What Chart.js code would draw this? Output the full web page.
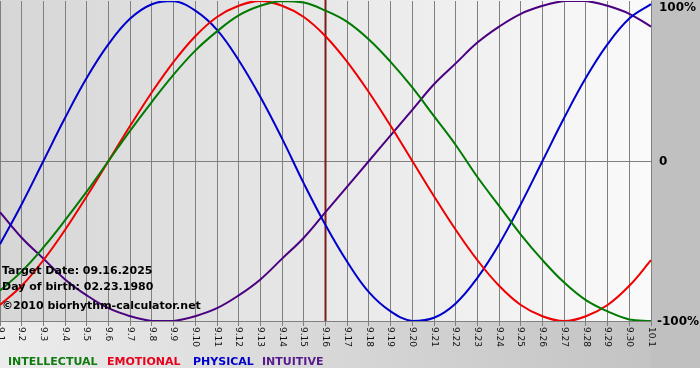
<!DOCTYPE html>
<html>
<head>
<meta charset="utf-8">
<script src="https://cdn.jsdelivr.net/npm/chart.js@4/dist/chart.umd.min.js"></script>
<style>
  html, body { margin: 0; padding: 0; background: #ffffff; }
  #wrap { width: 700px; height: 380px; position: relative; }
</style>
</head>
<body>
<div id="wrap"><canvas id="c" width="700" height="380"></canvas></div>
<script>
const days = ["9.1","9.2","9.3","9.4","9.5","9.6","9.7","9.8","9.9","9.10","9.11","9.12","9.13","9.14","9.15","9.16","9.17","9.18","9.19","9.20","9.21","9.22","9.23","9.24","9.25","9.26","9.27","9.28","9.29","9.30","10.1"];
const intellectual = [-81,-69,-54,-37,-19,0,19,37,54,69,81,91,97,100,99,94,87,76,62,46,28,10,-10,-28,-46,-62,-76,-87,-94,-99,-100];
const emotional    = [-90,-78,-62,-43,-22,0,22,43,62,78,90,97,100,97,90,78,62,43,22,0,-22,-43,-62,-78,-90,-97,-100,-97,-90,-78,-62];
const physical     = [-52,-27,0,27,52,73,89,98,100,94,82,63,40,14,-14,-40,-63,-82,-94,-100,-98,-89,-73,-52,-27,0,27,52,73,89,98];
const intuitive    = [-32,-48,-61,-74,-84,-92,-97,-100,-100,-97,-92,-84,-74,-61,-48,-32,-16,0,16,32,48,61,74,84,92,97,100,100,97,92,84];
const yTickLabels = {"100": "100%", "0": "0", "-100": "-100%"};
const targetDay = "9.16";
const infoLines = ["Target Date: 09.16.2025", "Day of birth: 02.23.1980", "\u00A92010 biorhythm-calculator.net"];
const legendItems = [
  {text: "INTELLECTUAL", color: "#0f7a0f", x: 8},
  {text: "EMOTIONAL", color: "#e8001c", x: 107},
  {text: "PHYSICAL", color: "#0000cc", x: 193},
  {text: "INTUITIVE", color: "#551a8b", x: 262}
];
const lineColors = {intellectual: "#007a00", emotional: "#ee0000", physical: "#0000cc", intuitive: "#4b0082"};

const bgPlugin = {
  id: "bg",
  beforeDraw(chart) {
    const ctx = chart.ctx, a = chart.chartArea;
    ctx.save();
    ctx.fillStyle = "#ffffff";
    ctx.fillRect(0, 0, chart.width, chart.height);
    let g = ctx.createLinearGradient(0, 0, chart.width, 0);
    g.addColorStop(0, "#ececec");
    g.addColorStop(1, "#c0c0c0");
    ctx.fillStyle = g;
    ctx.fillRect(0, 0, chart.width, 368);
    ctx.fillStyle = "#c0c0c0";
    ctx.fillRect(a.right, 0, chart.width - a.right, 368);
    g = ctx.createLinearGradient(a.left, 0, a.right, 0);
    g.addColorStop(0, "#d6d6d6");
    g.addColorStop(1, "#fafafa");
    ctx.fillStyle = g;
    ctx.fillRect(a.left, 0, a.right - a.left, a.bottom);
    ctx.restore();
  },
  beforeDatasetsDraw(chart) {
    const ctx = chart.ctx, a = chart.chartArea, xs = chart.scales.x;
    const x = xs.getPixelForValue(days.indexOf(targetDay));
    ctx.save();
    ctx.strokeStyle = "#7d1c1c";
    ctx.lineWidth = 2;
    ctx.beginPath();
    ctx.moveTo(x, 0);
    ctx.lineTo(x, a.bottom);
    ctx.stroke();
    ctx.restore();
  },
  afterDraw(chart) {
    const ctx = chart.ctx, a = chart.chartArea, xs = chart.scales.x, ys = chart.scales.y;
    ctx.save();
    ctx.fillStyle = "#111111";
    ctx.font = "9px 'DejaVu Sans'";
    ctx.textAlign = "left";
    ctx.textBaseline = "middle";
    days.forEach((d, i) => {
      const x = xs.getPixelForValue(i);
      ctx.save();
      ctx.translate(x, a.bottom + 6);
      ctx.rotate(Math.PI / 2);
      ctx.fillText(d, 0, 0);
      ctx.restore();
    });
    ctx.fillStyle = "#000000";
    ctx.font = "bold 12px 'DejaVu Sans'";
    Object.keys(yTickLabels).forEach(k => {
      const y = ys.getPixelForValue(Number(k));
      const t = yTickLabels[k];
      ctx.fillText(t, t.startsWith("-") ? 657 : 659, Math.min(Math.max(y, 7), 373) + 1);
    });
    ctx.font = "bold 11px 'DejaVu Sans'";
    ctx.fillStyle = "#000000";
    ctx.fillText(infoLines[0], 2, 271);
    ctx.fillText(infoLines[1], 2, 287);
    ctx.fillText(infoLines[2], 2, 306);
    legendItems.forEach(it => {
      ctx.fillStyle = it.color;
      ctx.fillText(it.text, it.x, 362);
    });
    ctx.restore();
  }
};

new Chart(document.getElementById("c"), {
  type: "line",
  data: {
    labels: days,
    datasets: [
      {label: "INTELLECTUAL", data: intellectual, borderColor: lineColors.intellectual},
      {label: "EMOTIONAL", data: emotional, borderColor: lineColors.emotional},
      {label: "PHYSICAL", data: physical, borderColor: lineColors.physical},
      {label: "INTUITIVE", data: intuitive, borderColor: lineColors.intuitive}
    ]
  },
  options: {
    responsive: false,
    animation: false,
    devicePixelRatio: 1,
    layout: {padding: {left: 0, top: 1, right: 49, bottom: 54}},
    elements: {
      line: {borderWidth: 2, tension: 0.4, fill: false},
      point: {radius: 0}
    },
    plugins: {legend: {display: false}, tooltip: {enabled: false}},
    scales: {
      x: {
        offset: false,
        grid: {color: "#808080", lineWidth: 1, drawTicks: true, tickLength: 5, offset: false},
        border: {display: true, color: "#808080"},
        ticks: {display: false}
      },
      y: {
        position: "right",
        min: -100, max: 100,
        ticks: {display: false, stepSize: 100},
        grid: {drawTicks: false, color: (c) => c.tick && c.tick.value === 0 ? "#808080" : "rgba(0,0,0,0)"},
        border: {display: false}
      }
    }
  },
  plugins: [bgPlugin]
});
</script>
</body>
</html>
